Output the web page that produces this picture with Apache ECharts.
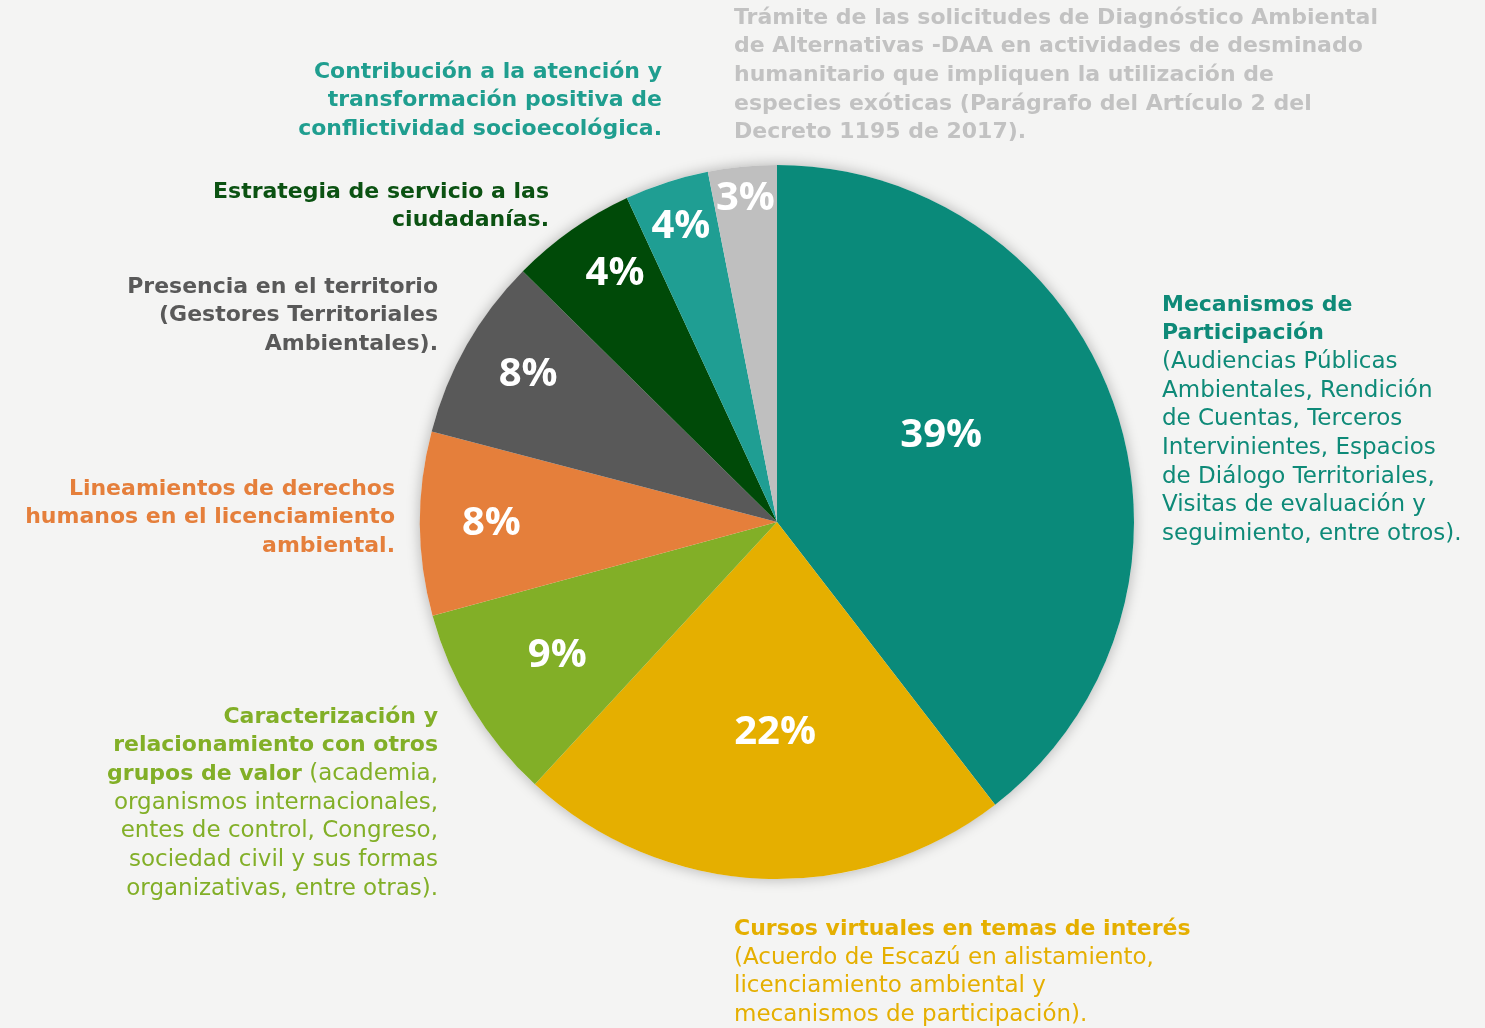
<!DOCTYPE html>
<html>
<head>
<meta charset="utf-8">
<script src="https://cdn.jsdelivr.net/npm/echarts@6/dist/echarts.min.js"></script>
<style>
  html, body { margin: 0; padding: 0; background: #f4f4f3; }
  #chart { width: 1485px; height: 1028px; }
</style>
</head>
<body>
<div id="chart"></div>
<script>
// slices, clockwise from 12 o'clock
const categories = [
  'Mecanismos de Participación',
  'Cursos virtuales en temas de interés',
  'Caracterización y relacionamiento con otros grupos de valor',
  'Lineamientos de derechos humanos en el licenciamiento ambiental',
  'Presencia en el territorio',
  'Estrategia de servicio a las ciudadanías',
  'Contribución a la atención y transformación positiva de conflictividad socioecológica',
  'Trámite de las solicitudes DAA'
]
const shares = [39.5, 22.3, 8.9, 8.3, 8.3, 5.7, 3.8, 3.1]
const pctLabels = ['39%', '22%', '9%', '8%', '8%', '4%', '4%', '3%']
const sliceColors = ['#0a8a7a', '#e5af00', '#82af27', '#e57f3b', '#595959', '#004a08', '#1f9e93', '#bfbfbf']

// where each percent label sits: fraction of radius, and a small turn (deg) off the slice middle
const labelDepth = [0.52, 0.59, 0.72, 0.80, 0.81, 0.83, 0.87, 0.91]
const labelTurn = [-9, -2, 0, 0, 1, 2, 0, 0]

const CX = 777
const CY = 522
const R = 357
const PCT_FONT = '"Open Sans", sans-serif'
const TXT_FONT = '"DejaVu Sans", sans-serif'
const LH = 28.6

const total = shares.reduce((a, b) => a + b, 0)
const midAngles = []
let acc = 0
shares.forEach((v, i) => {
  midAngles.push((acc + v / 2) / total * Math.PI * 2 + labelTurn[i] * Math.PI / 180)
  acc += v
})

const rich = (color) => ({
  b: { fontFamily: TXT_FONT, fontWeight: 'bold', fontSize: 22, lineHeight: LH, fill: color },
  r: { fontFamily: TXT_FONT, fontWeight: 'normal', fontSize: 23, lineHeight: LH, fill: color }
})

const textBlock = (x, yTop, align, color, text) => ({
  type: 'text',
  x: x,
  y: yTop,
  silent: true,
  style: { text: text, align: align, verticalAlign: 'top', rich: rich(color) }
})

const chart = echarts.init(document.getElementById('chart'))

chart.setOption({
  backgroundColor: '#f4f4f3',
  animation: false,
  series: [
    {
      // soft shadow under the whole disc
      type: 'pie',
      silent: true,
      center: [CX, CY],
      radius: R,
      label: { show: false },
      itemStyle: { color: '#f4f4f3', shadowBlur: 14, shadowColor: 'rgba(0,0,0,0.28)' },
      data: [total]
    },
    {
      type: 'pie',
      center: [CX, CY],
      radius: R,
      startAngle: 90,
      clockwise: true,
      data: shares.map((v, i) => ({
        name: categories[i],
        value: v,
        itemStyle: { color: sliceColors[i] }
      })),
      label: {
        show: true,
        position: 'inside',
        formatter: (p) => pctLabels[p.dataIndex],
        color: '#ffffff',
        fontFamily: PCT_FONT,
        fontWeight: 'bold',
        fontSize: 40
      },
      labelLayout: (p) => {
        const a = midAngles[p.dataIndex]
        const d = labelDepth[p.dataIndex] * R
        return {
          x: CX + d * Math.sin(a),
          y: CY - d * Math.cos(a),
          align: 'center',
          verticalAlign: 'middle'
        }
      },
      labelLine: { show: false }
    }
  ],
  graphic: [
    textBlock(734, 18 - LH / 2, 'left', '#c2c2c2',
      '{b|Trámite de las solicitudes de Diagnóstico Ambiental}\n' +
      '{b|de Alternativas -DAA en actividades de desminado}\n' +
      '{b|humanitario que impliquen la utilización de}\n' +
      '{b|especies exóticas (Parágrafo del Artículo 2 del}\n' +
      '{b|Decreto 1195 de 2017).}'),
    textBlock(662, 72 - LH / 2, 'right', '#1f9e8f',
      '{b|Contribución a la atención y}\n' +
      '{b|transformación positiva de}\n' +
      '{b|conflictividad socioecológica.}'),
    textBlock(549, 192 - LH / 2, 'right', '#0b5212',
      '{b|Estrategia de servicio a las}\n' +
      '{b|ciudadanías.}'),
    textBlock(438, 287 - LH / 2, 'right', '#595959',
      '{b|Presencia en el territorio}\n' +
      '{b|(Gestores Territoriales}\n' +
      '{b|Ambientales).}'),
    textBlock(395, 489 - LH / 2, 'right', '#e57f3b',
      '{b|Lineamientos de derechos}\n' +
      '{b|humanos en el licenciamiento}\n' +
      '{b|ambiental.}'),
    textBlock(438, 717 - LH / 2, 'right', '#82af27',
      '{b|Caracterización y}\n' +
      '{b|relacionamiento con otros}\n' +
      '{b|grupos de valor}{r| (academia,}\n' +
      '{r|organismos internacionales,}\n' +
      '{r|entes de control, Congreso,}\n' +
      '{r|sociedad civil y sus formas}\n' +
      '{r|organizativas, entre otras).}'),
    textBlock(1162, 305 - LH / 2, 'left', '#0e8a78',
      '{b|Mecanismos de}\n' +
      '{b|Participación}\n' +
      '{r|(Audiencias Públicas}\n' +
      '{r|Ambientales, Rendición}\n' +
      '{r|de Cuentas, Terceros}\n' +
      '{r|Intervinientes, Espacios}\n' +
      '{r|de Diálogo Territoriales,}\n' +
      '{r|Visitas de evaluación y}\n' +
      '{r|seguimiento, entre otros).}'),
    textBlock(734, 929 - LH / 2, 'left', '#e5af00',
      '{b|Cursos virtuales en temas de interés}\n' +
      '{r|(Acuerdo de Escazú en alistamiento,}\n' +
      '{r|licenciamiento ambiental y}\n' +
      '{r|mecanismos de participación).}')
  ]
})
</script>
</body>
</html>
